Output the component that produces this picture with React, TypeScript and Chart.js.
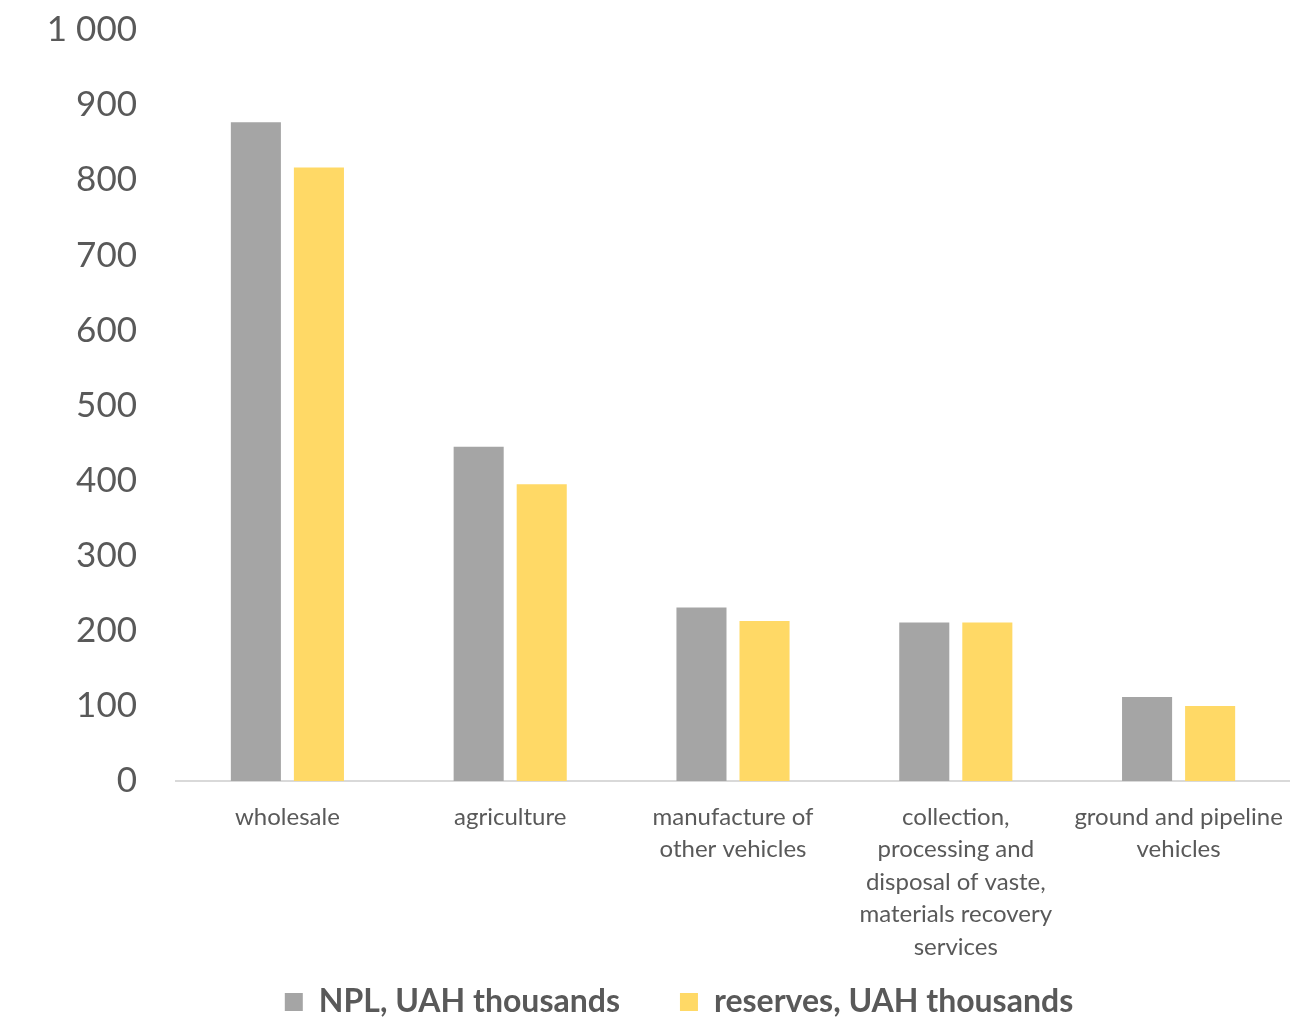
import React, { useEffect, useRef } from "react";
import { Chart, registerables } from "chart.js";

Chart.register(...registerables);

const categories: string[][] = [
  ["wholesale"],
  ["agriculture"],
  ["manufacture of", "other vehicles"],
  ["collection,", "processing and", "disposal of vaste,", "materials recovery", "services"],
  ["ground and pipeline", "vehicles"],
];

const npl: number[] = [877, 445, 231, 211, 112];
const reserves: number[] = [817, 395, 213, 211, 100];

const seriesNames = ["NPL, UAH thousands", "reserves, UAH thousands"];
const textColor = "#595959";

function formatTick(v: number): string {
  return String(Math.round(v)).replace(/\B(?=(\d{3})+(?!\d))/g, " ");
}

// Lets the long category labels run down into the legend band and
// nudges the legend row a little to the right.
const layoutTweaks = {
  id: "layoutTweaks",
  afterLayout(chart: any) {
    const x = chart.scales.x;
    if (x) x.bottom = chart.height;
    const lg = chart.legend;
    if (lg) {
      lg.left += 34;
      lg.right += 34;
    }
  },
};

export default function App() {
  const canvasRef = useRef<HTMLCanvasElement | null>(null);

  useEffect(() => {
    if (!canvasRef.current) return;
    const chart = new Chart(canvasRef.current, {
      type: "bar",
      data: {
        labels: categories,
        datasets: [
          {
            label: seriesNames[0],
            data: npl,
            backgroundColor: "#a5a5a5",
            categoryPercentage: 0.566,
            barPercentage: 0.794,
          },
          {
            label: seriesNames[1],
            data: reserves,
            backgroundColor: "#ffd966",
            categoryPercentage: 0.566,
            barPercentage: 0.794,
          },
        ],
      },
      plugins: [layoutTweaks],
      options: {
        animation: false,
        responsive: false,
        maintainAspectRatio: false,
        layout: { padding: { top: 30, left: 0, right: 0, bottom: 0 } },
        plugins: {
          tooltip: { enabled: false },
          legend: {
            position: "bottom",
            labels: {
              color: textColor,
              boxWidth: 18,
              boxHeight: 18,
              padding: 60,
              font: { family: "Lato", size: 32, weight: "bold" },
            },
          },
        },
        scales: {
          x: {
            grid: { display: false, drawTicks: false },
            border: { display: true, color: "#d9d9d9", width: 2 },
            ticks: {
              color: textColor,
              padding: 20,
              maxRotation: 0,
              autoSkip: false,
              font: { family: "Lato", size: 24, lineHeight: 1.35 },
            },
            afterFit: (scale: any) => {
              scale.height = 145;
              scale.paddingLeft = 0;
              scale.paddingRight = 0;
            },
          },
          y: {
            min: 0,
            max: 1000,
            grid: { display: false, drawTicks: false },
            border: { display: false },
            ticks: {
              stepSize: 100,
              color: textColor,
              padding: 39,
              font: { family: "Lato", size: 35 },
              callback: (v: any) => formatTick(Number(v)),
            },
            afterFit: (scale: any) => {
              scale.width = 176;
              scale.paddingTop = 0;
              scale.paddingBottom = 0;
            },
          },
        },
      },
    });
    return () => chart.destroy();
  }, []);

  return (
    <div style={{ position: "absolute", left: 0, top: 0, width: 1290, height: 1028, background: "#fff" }}>
      <canvas ref={canvasRef} width={1290} height={1028} style={{ display: "block" }} />
    </div>
  );
}
